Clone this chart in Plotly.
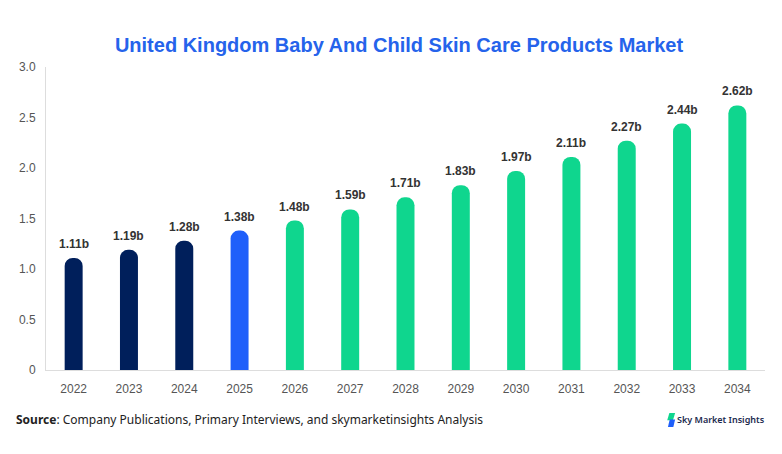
import plotly.graph_objects as go

# chart data
years = ['2022', '2023', '2024', '2025', '2026', '2027', '2028',
         '2029', '2030', '2031', '2032', '2033', '2034']
market_size = [1.11, 1.19, 1.28, 1.38, 1.48, 1.59, 1.71, 1.83, 1.97, 2.11, 2.27, 2.44, 2.62]
bar_colors = ['#001f5b'] * 3 + ['#1f5ffa'] + ['#0fd68e'] * 9
ytick_vals = [0, 0.5, 1.0, 1.5, 2.0, 2.5, 3.0]
ytick_text = ['0', '0.5', '1.0', '1.5', '2.0', '2.5', '3.0']

fig = go.Figure()
fig.add_trace(go.Bar(
    x=years, y=market_size,
    marker=dict(color=bar_colors, cornerradius=10, line=dict(width=0)),
    hoverinfo='x+y',
))

# value labels above the bars (x given as category index so it isn't read as a number)
for i, v in enumerate(market_size):
    fig.add_annotation(x=i, y=v, text='<b>%.2fb</b>' % v, showarrow=False,
                       yanchor='bottom', yshift=5,
                       font=dict(family='Liberation Sans, Arial', size=12, color='#333333'))

# source note
fig.add_annotation(xref='paper', yref='paper', x=-0.044, y=-0.162, xanchor='left', yanchor='middle',
                   text='<b>Source</b>: Company Publications, Primary Interviews, and skymarketinsights Analysis',
                   showarrow=False, font=dict(family='Noto Sans', size=12, color='#222222'))

# logo text
fig.add_annotation(xref='paper', yref='paper', x=1.003, y=-0.165, xanchor='right', yanchor='middle',
                   text='Sky Market Insights', showarrow=False,
                   font=dict(family='Noto Sans', size=9, color='#1b2a4e', weight=600))
# logo mark
fig.add_shape(type='path', xref='paper', yref='paper',
              path='M 0.8670 -0.142 L 0.8750 -0.142 L 0.8720 -0.166 L 0.8640 -0.166 Z',
              fillcolor='#0fd68e', line=dict(width=0))
fig.add_shape(type='path', xref='paper', yref='paper',
              path='M 0.8675 -0.163 L 0.8750 -0.163 L 0.8725 -0.188 L 0.8650 -0.188 Z',
              fillcolor='#1f5ffa', line=dict(width=0))

fig.update_layout(
    width=782, height=454,
    margin=dict(l=38, r=25, t=59, b=92, autoexpand=False),
    paper_bgcolor='white', plot_bgcolor='white',
    title=dict(text='<b>United Kingdom Baby And Child Skin Care Products Market</b>',
               x=0.5, xanchor='center', y=1 - 37 / 454, yanchor='middle',
               font=dict(family='Liberation Sans, Arial', size=20, color='#2563eb')),
    bargap=0.675,
    showlegend=False,
    xaxis=dict(type='category', range=[-0.5, len(years) - 0.5], showline=True,
               linecolor='#dddddd', linewidth=1, showgrid=False,
               ticks='', automargin=False, ticklabelstandoff=8,
               tickfont=dict(family='Liberation Sans, Arial', size=12, color='#555555')),
    yaxis=dict(range=[0, 3.0], tickvals=ytick_vals, ticktext=ytick_text, automargin=False,
               showline=True, linecolor='#dddddd', linewidth=1, showgrid=False, zeroline=False,
               ticks='', ticklabelstandoff=7,
               tickfont=dict(family='Liberation Sans, Arial', size=12, color='#555555')),
)

fig.write_html("out.html")
